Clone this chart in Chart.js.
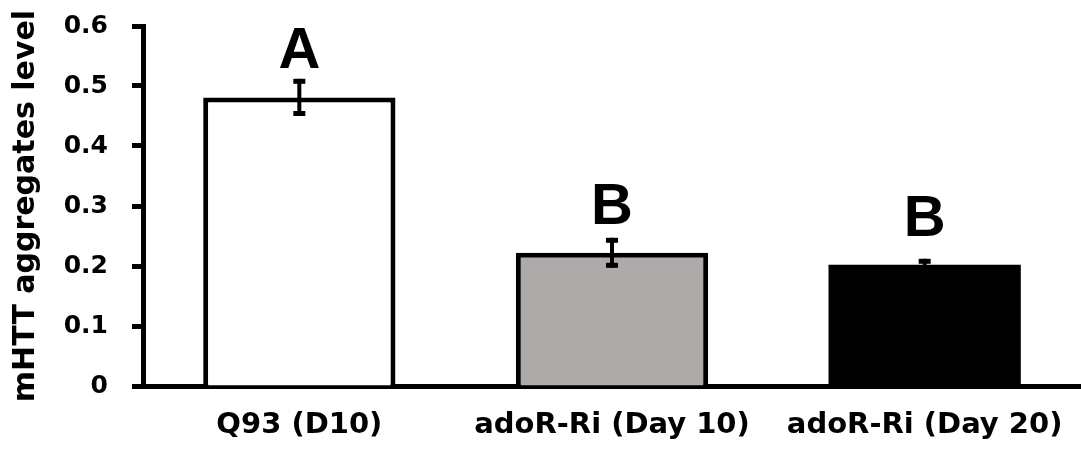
<!DOCTYPE html>
<html>
<head>
<meta charset="utf-8">
<script src="https://cdn.jsdelivr.net/npm/chart.js@4.4.0/dist/chart.umd.min.js"></script>
<style>
  html, body { margin: 0; padding: 0; background: #fff; }
  #wrap { width: 1081px; height: 452px; }
</style>
</head>
<body>
<div id="wrap"><canvas id="barChart" width="1081" height="452"></canvas></div>
<script>
// data
const categories = ['Q93 (D10)', 'adoR-Ri (Day 10)', 'adoR-Ri (Day 20)'];
const means = [0.481, 0.222, 0.202];
const errors = [0.031, 0.025, 0.010];
const letters = ['A', 'B', 'B'];
const fills = ['#ffffff', '#aeaaaa', '#000000'];
const yTicks = [0, 0.1, 0.2, 0.3, 0.4, 0.5, 0.6];

const AXIS_FONT = "'DejaVu Sans', sans-serif";
const LETTER_FONT = "'Liberation Sans', Arial, sans-serif";

// error bars + significance letters
const errorBarPlugin = {
  id: 'errorBars',
  afterDatasetsDraw(chart) {
    const ctx = chart.ctx;
    const meta = chart.getDatasetMeta(0);
    const y = chart.scales.y;
    ctx.save();
    meta.data.forEach((bar, i) => {
      const x = bar.x;
      const top = y.getPixelForValue(means[i] + errors[i]);
      const bot = y.getPixelForValue(means[i] - errors[i]);
      ctx.fillStyle = '#000';
      ctx.fillRect(x - 2, top, 4, bot - top);
      ctx.fillRect(x - 6, top, 12, 5);
      ctx.fillRect(x - 6, bot - 5, 12, 5);

      ctx.font = 'bold 58px ' + LETTER_FONT;
      ctx.textAlign = 'center';
      ctx.textBaseline = 'alphabetic';
      ctx.fillText(letters[i], x, bar.y - 29);
    });
    ctx.restore();
  }
};

const barChart = new Chart(
  document.getElementById('barChart'),
  {
    type: 'bar',
    data: {
      labels: categories,
      datasets: [{
        data: means,
        backgroundColor: fills,
        borderColor: '#000',
        borderWidth: [5, 5, 0],
        borderSkipped: 'bottom',
        categoryPercentage: 1,
        barPercentage: 0.615
      }]
    },
    options: {
      responsive: false,
      animation: false,
      layout: { padding: { top: 26, right: 0, left: 8, bottom: 0 } },
      plugins: {
        legend: { display: false },
        tooltip: { enabled: false }
      },
      scales: {
        x: {
          grid: { display: false, drawTicks: false },
          border: { color: '#000', width: 5 },
          ticks: {
            color: '#000',
            padding: 22,
            font: { family: AXIS_FONT, size: 29, weight: 'bold' }
          },
          afterFit(scale) {
            scale.height = 66;
            scale.paddingLeft = 0;
            scale.paddingRight = 0;
          }
        },
        y: {
          min: 0,
          max: 0.6,
          afterBuildTicks(scale) {
            scale.ticks = yTicks.map(v => ({ value: v }));
          },
          grid: {
            drawOnChartArea: false,
            drawTicks: true,
            tickLength: 11,
            tickWidth: 5,
            tickColor: '#000'
          },
          border: { color: '#000', width: 5 },
          ticks: {
            color: '#000',
            padding: 24,
            font: { family: AXIS_FONT, size: 25, weight: 'bold' },
            callback: v => (v === 0 ? '0' : v.toFixed(1))
          },
          title: {
            display: true,
            text: 'mHTT aggregates level',
            color: '#000',
            padding: 0,
            font: { family: AXIS_FONT, size: 30, weight: 'bold' }
          },
          afterFit(scale) {
            scale.width = 135;
            scale.paddingTop = 0;
            scale.paddingBottom = 0;
          }
        }
      }
    },
    plugins: [errorBarPlugin]
  }
);
</script>
</body>
</html>
